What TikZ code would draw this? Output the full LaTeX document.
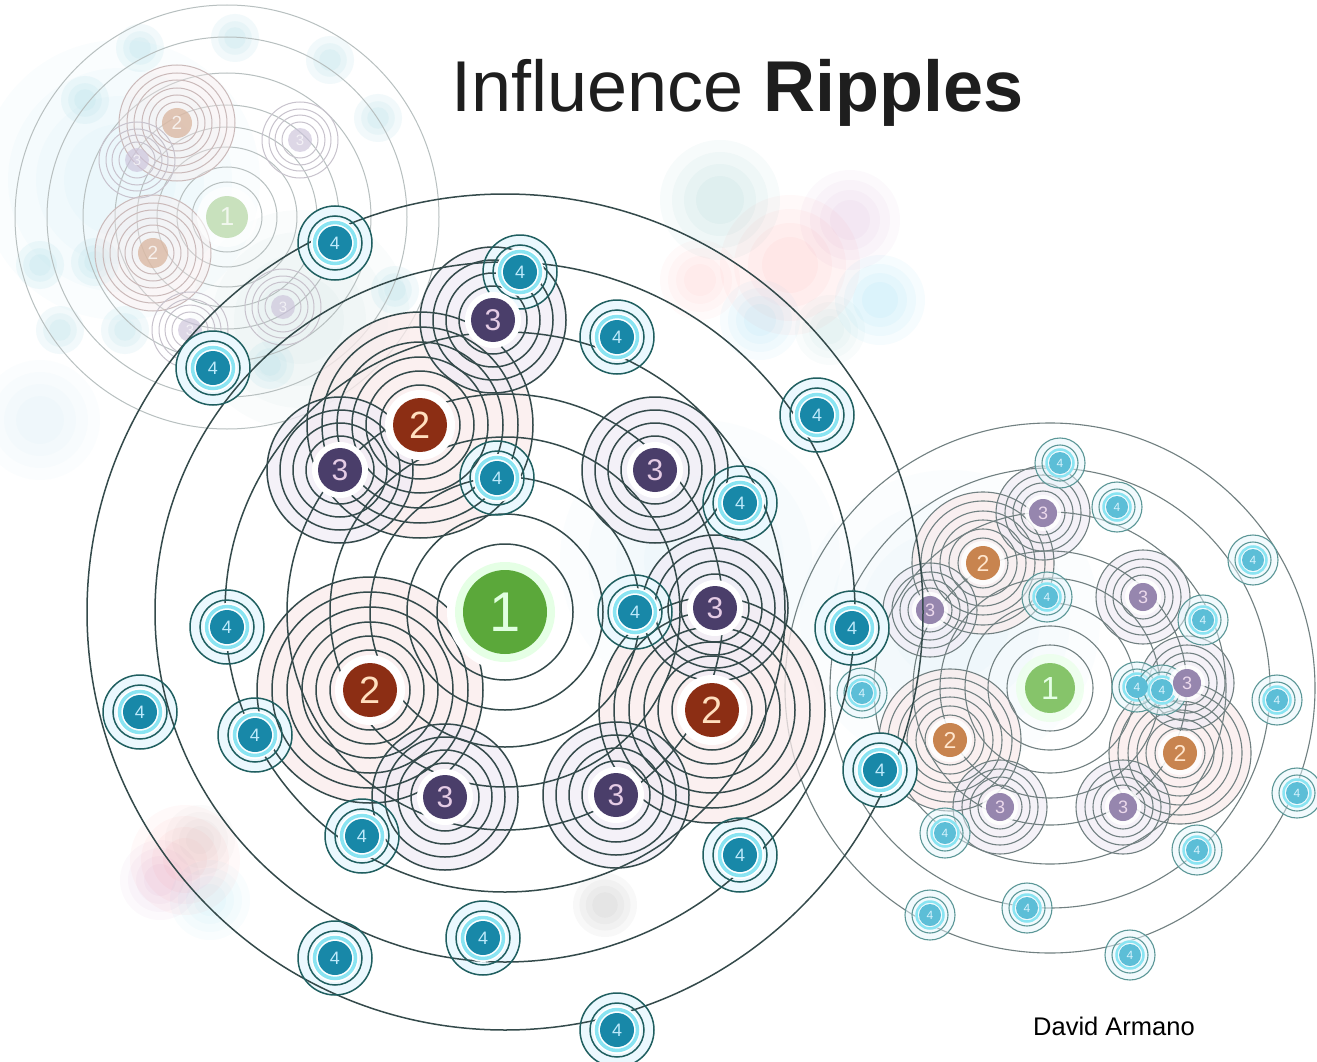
\documentclass[tikz,border=0pt]{standalone}
\usepackage{fontspec}
\setmainfont{Liberation Sans}
\definecolor{ringc}{HTML}{344A4B}
\definecolor{gone}{HTML}{5BA83A}
\definecolor{two}{HTML}{8C2E14}
\definecolor{three}{HTML}{4A3E6A}
\definecolor{four}{HTML}{1888A8}
\definecolor{cyanr}{HTML}{8AE4F2}
\definecolor{pinkt}{HTML}{FAEBEB}
\definecolor{lavt}{HTML}{F1EDF6}
\definecolor{rone}{HTML}{86C46A}
\definecolor{rtwo}{HTML}{C8844F}
\definecolor{rthree}{HTML}{9686AE}
\definecolor{rfour}{HTML}{5CBED7}
\definecolor{tone}{HTML}{B8D8A8}
\definecolor{ttwo}{HTML}{D9B59E}
\definecolor{tthree}{HTML}{CBC2DA}
\definecolor{tfour}{HTML}{A9DCE6}
\definecolor{titlec}{HTML}{1E1E1E}
\begin{document}
\begin{tikzpicture}[x=1pt,y=-1pt,
  ring/.style={draw=ringc,line width=1.5pt},
  rring/.style={draw=ringc!70,line width=1.1pt},
  tring/.style={draw=ringc!35,line width=1pt},
  disc/.style={circle,inner sep=0pt},
  n1/.style={disc,fill=gone,text=green!12,minimum size=84pt,font=\fontsize{56}{56}\selectfont},
  n2/.style={disc,fill=two,text=orange!25,minimum size=54pt,font=\fontsize{38}{38}\selectfont},
  n3/.style={disc,fill=three,text=violet!20,minimum size=44pt,font=\fontsize{30}{30}\selectfont},
  n4/.style={disc,fill=four,text=cyan!25,minimum size=34pt,font=\fontsize{18}{18}\selectfont},
  r1/.style={disc,fill=rone,text=green!10,minimum size=50pt,font=\fontsize{32}{32}\selectfont},
  r2/.style={disc,fill=rtwo,text=orange!20,minimum size=34pt,font=\fontsize{23}{23}\selectfont},
  r3/.style={disc,fill=rthree,text=violet!15,minimum size=28pt,font=\fontsize{18}{18}\selectfont},
  r4/.style={disc,fill=rfour,text=cyan!15,minimum size=22pt,font=\fontsize{12}{12}\selectfont},
  t1/.style={disc,fill=tone,text=white,minimum size=42pt,font=\fontsize{26}{26}\selectfont},
  t2/.style={disc,fill=ttwo,text=white,minimum size=30pt,font=\fontsize{19}{19}\selectfont},
  t3/.style={disc,fill=tthree,text=white,minimum size=24pt,font=\fontsize{15}{15}\selectfont},
  title/.style={anchor=base west,inner sep=0pt,text=titlec,font=\fontsize{72}{80}\selectfont},
  credit/.style={anchor=base west,inner sep=0pt,text=black,font=\fontsize{25.5}{30}\selectfont}]
\useasboundingbox (0,0) rectangle (1317,1062);
\fill[white] (0,0) rectangle (1317,1062);

% ---------- faint background washes and blurred clusters ----------
\foreach \x/\y/\r/\c/\o in {120/180/140/cyan/0.02, 300/320/110/teal/0.02, 40/420/60/cyan/0.015, 700/560/140/cyan/0.015, 950/620/150/cyan/0.015,
  720/200/60/teal/0.03, 790/265/70/red/0.025, 850/220/50/violet/0.025, 880/300/45/cyan/0.035, 760/320/40/cyan/0.03, 700/280/40/red/0.02, 830/330/35/teal/0.025,
  185/860/55/red/0.025, 160/880/40/violet/0.025, 210/900/40/cyan/0.025, 200/840/35/gray/0.03,
  605/905/32/gray/0.05}
  \foreach \s in {1,0.8,0.6,0.4}
    \fill[\c,opacity=\o] (\x,\y) circle[radius=\s*\r];

% ---------- top-left faded cluster ----------
\foreach \x/\y in {85/100, 140/48, 235/38, 330/60, 378/118, 40/265, 95/262, 125/330, 395/290, 60/330, 270/365}
  \foreach \s in {1,0.7,0.45}
    \fill[tfour,opacity=0.15] (\x,\y) circle[radius=\s*24];
\foreach \r in {35,50,70,90,112,144,180,212}
  \draw[tring] (227,217) circle[radius=\r];
\foreach \nm/\x/\y in {tb/177/123, tc/153/253} {
  \fill[pinkt,opacity=0.35] (\x,\y) circle[radius=58];
  \foreach \r in {21,28,35,43,50,58} \draw[tring,draw=red!25!ringc!35] (\x,\y) circle[radius=\r];
}
\foreach \nm/\x/\y in {td/137/160, te/300/140, tf/283/307, tg/190/330} {
  \foreach \r in {18,25,31,38} \draw[tring,draw=violet!25!ringc!30] (\x,\y) circle[radius=\r];
}
\fill[white,opacity=0.6] (227,217) circle[radius=30];
\node[t1,opacity=0.75] (ta) at (227,217) {1};
\node[t2,opacity=0.75] (tb) at (177,123) {2};
\node[t2,opacity=0.75] (tc) at (153,253) {2};
\foreach \nm/\x/\y in {td/137/160, te/300/140, tf/283/307, tg/190/330}
  \node[t3,opacity=0.65] (\nm) at (\x,\y) {3};

% ---------- right cluster ----------
\foreach \nm/\x/\y in {rb/983/563, rc/950/740, rd/1180/753}
  \fill[pinkt,opacity=0.7] (\x,\y) circle[radius=71];
\foreach \nm/\x/\y in {re/1043/513, rf/930/610, rg/1143/597, rh/1187/683, ri/1000/807, rj/1123/807}
  \fill[lavt,opacity=0.7] (\x,\y) circle[radius=47];
\foreach \r in {43,62,85,110,137,176,220,265}
  \draw[rring] (1050,688) circle[radius=\r];
\foreach \x/\y in {983/563, 950/740, 1180/753}
  \foreach \r in {25,34,43,52,62,71} \draw[rring] (\x,\y) circle[radius=\r];
\foreach \x/\y in {1043/513, 930/610, 1143/597, 1187/683, 1000/807, 1123/807}
  \foreach \r in {22,30,38,47} \draw[rring] (\x,\y) circle[radius=\r];
\foreach \x/\y in {1060/463, 1117/507, 1253/560, 1047/597, 1203/620, 862/693, 1137/687, 1162/690, 1277/700, 1297/793, 945/833, 1197/850, 1027/908, 930/915, 1130/955} {
  \fill[white,opacity=0.7] (\x,\y) circle[radius=15];
  \fill[cyan!10,opacity=0.5] (\x,\y) circle[radius=25];
  \draw[cyanr,line width=2.5pt] (\x,\y) circle[radius=13.5];
  \foreach \r in {18,25} \draw[rring,draw=teal!60!ringc!70] (\x,\y) circle[radius=\r];
}
\fill[green!8,opacity=0.8] (1050,688) circle[radius=34];
\node[r1] (ra) at (1050,688) {1};
\foreach \nm/\x/\y in {rb/983/563, rc/950/740, rd/1180/753} {
  \fill[white,opacity=0.85] (\x,\y) circle[radius=22];
  \node[r2] (\nm) at (\x,\y) {2};
}
\foreach \nm/\x/\y in {re/1043/513, rf/930/610, rg/1143/597, rh/1187/683, ri/1000/807, rj/1123/807} {
  \fill[white,opacity=0.85] (\x,\y) circle[radius=18];
  \node[r3] (\nm) at (\x,\y) {3};
}
\foreach \nm/\x/\y in {rk/1060/463, rl/1117/507, rm/1253/560, rn/1047/597, ro/1203/620, rp/862/693, rq/1137/687, rr/1162/690, rs/1277/700, rt/1297/793, ru/945/833, rv/1197/850, rw/1027/908, rx/930/915, ry/1130/955}
  \node[r4] (\nm) at (\x,\y) {4};

% ---------- main cluster ----------
\foreach \x/\y in {420/425, 370/690, 712/710}
  \fill[pinkt,opacity=0.75] (\x,\y) circle[radius=113];
\foreach \x/\y in {493/320, 340/470, 655/470, 715/608, 445/797, 616/795}
  \fill[lavt,opacity=0.75] (\x,\y) circle[radius=74];
\foreach \x/\y in {335/243, 520/272, 617/337, 213/368, 817/415, 497/478, 740/503, 227/627, 635/612, 852/628, 140/712, 255/735, 880/770, 362/836, 740/855, 483/938, 335/958, 617/1030}
  \fill[cyan!8] (\x,\y) circle[radius=37];
\foreach \r in {68,98,135,175,218,280,350,418}
  \draw[ring] (505,612) circle[radius=\r];
\foreach \x/\y in {420/425, 370/690, 712/710}
  \foreach \r in {40,54,68,83,98,113} \draw[ring] (\x,\y) circle[radius=\r];
\foreach \x/\y in {493/320, 340/470, 655/470, 715/608, 445/797, 616/795}
  \foreach \r in {34,47,60,73} \draw[ring] (\x,\y) circle[radius=\r];
\foreach \x/\y in {335/243, 520/272, 617/337, 213/368, 817/415, 497/478, 740/503, 227/627, 635/612, 852/628, 140/712, 255/735, 880/770, 362/836, 740/855, 483/938, 335/958, 617/1030} {
  \fill[white] (\x,\y) circle[radius=24];
  \draw[cyanr,line width=3.5pt] (\x,\y) circle[radius=20.5];
  \foreach \r in {27,37} \draw[ring,draw=teal!40!ringc] (\x,\y) circle[radius=\r];
}
\fill[white] (505,612) circle[radius=58];
\fill[green!10] (505,612) circle[radius=50];
\node[n1] (ma) at (505,612) {1};
\foreach \nm/\x/\y in {mb/420/425, mc/370/690, md/712/710} {
  \fill[white] (\x,\y) circle[radius=35];
  \node[n2] (\nm) at (\x,\y) {2};
}
\foreach \nm/\x/\y in {me/493/320, mf/340/470, mg/655/470, mh/715/608, mi/445/797, mj/616/795} {
  \fill[white] (\x,\y) circle[radius=28];
  \node[n3] (\nm) at (\x,\y) {3};
}
\foreach \nm/\x/\y in {mk/335/243, ml/520/272, mm/617/337, mn/213/368, mo/817/415, mp/497/478, mq/740/503, mr/227/627, ms/635/612, mt/852/628, mu/140/712, mv/255/735, mw/880/770, mx/362/836, my/740/855, mz/483/938, maa/335/958, mab/617/1030}
  \node[n4] (\nm) at (\x,\y) {4};

% ---------- texts ----------
\node[title] (title) at (451,112) {Influence \textbf{Ripples}};
\node[credit] (credit) at (1033,1035) {David Armano};
\end{tikzpicture}
\end{document}
